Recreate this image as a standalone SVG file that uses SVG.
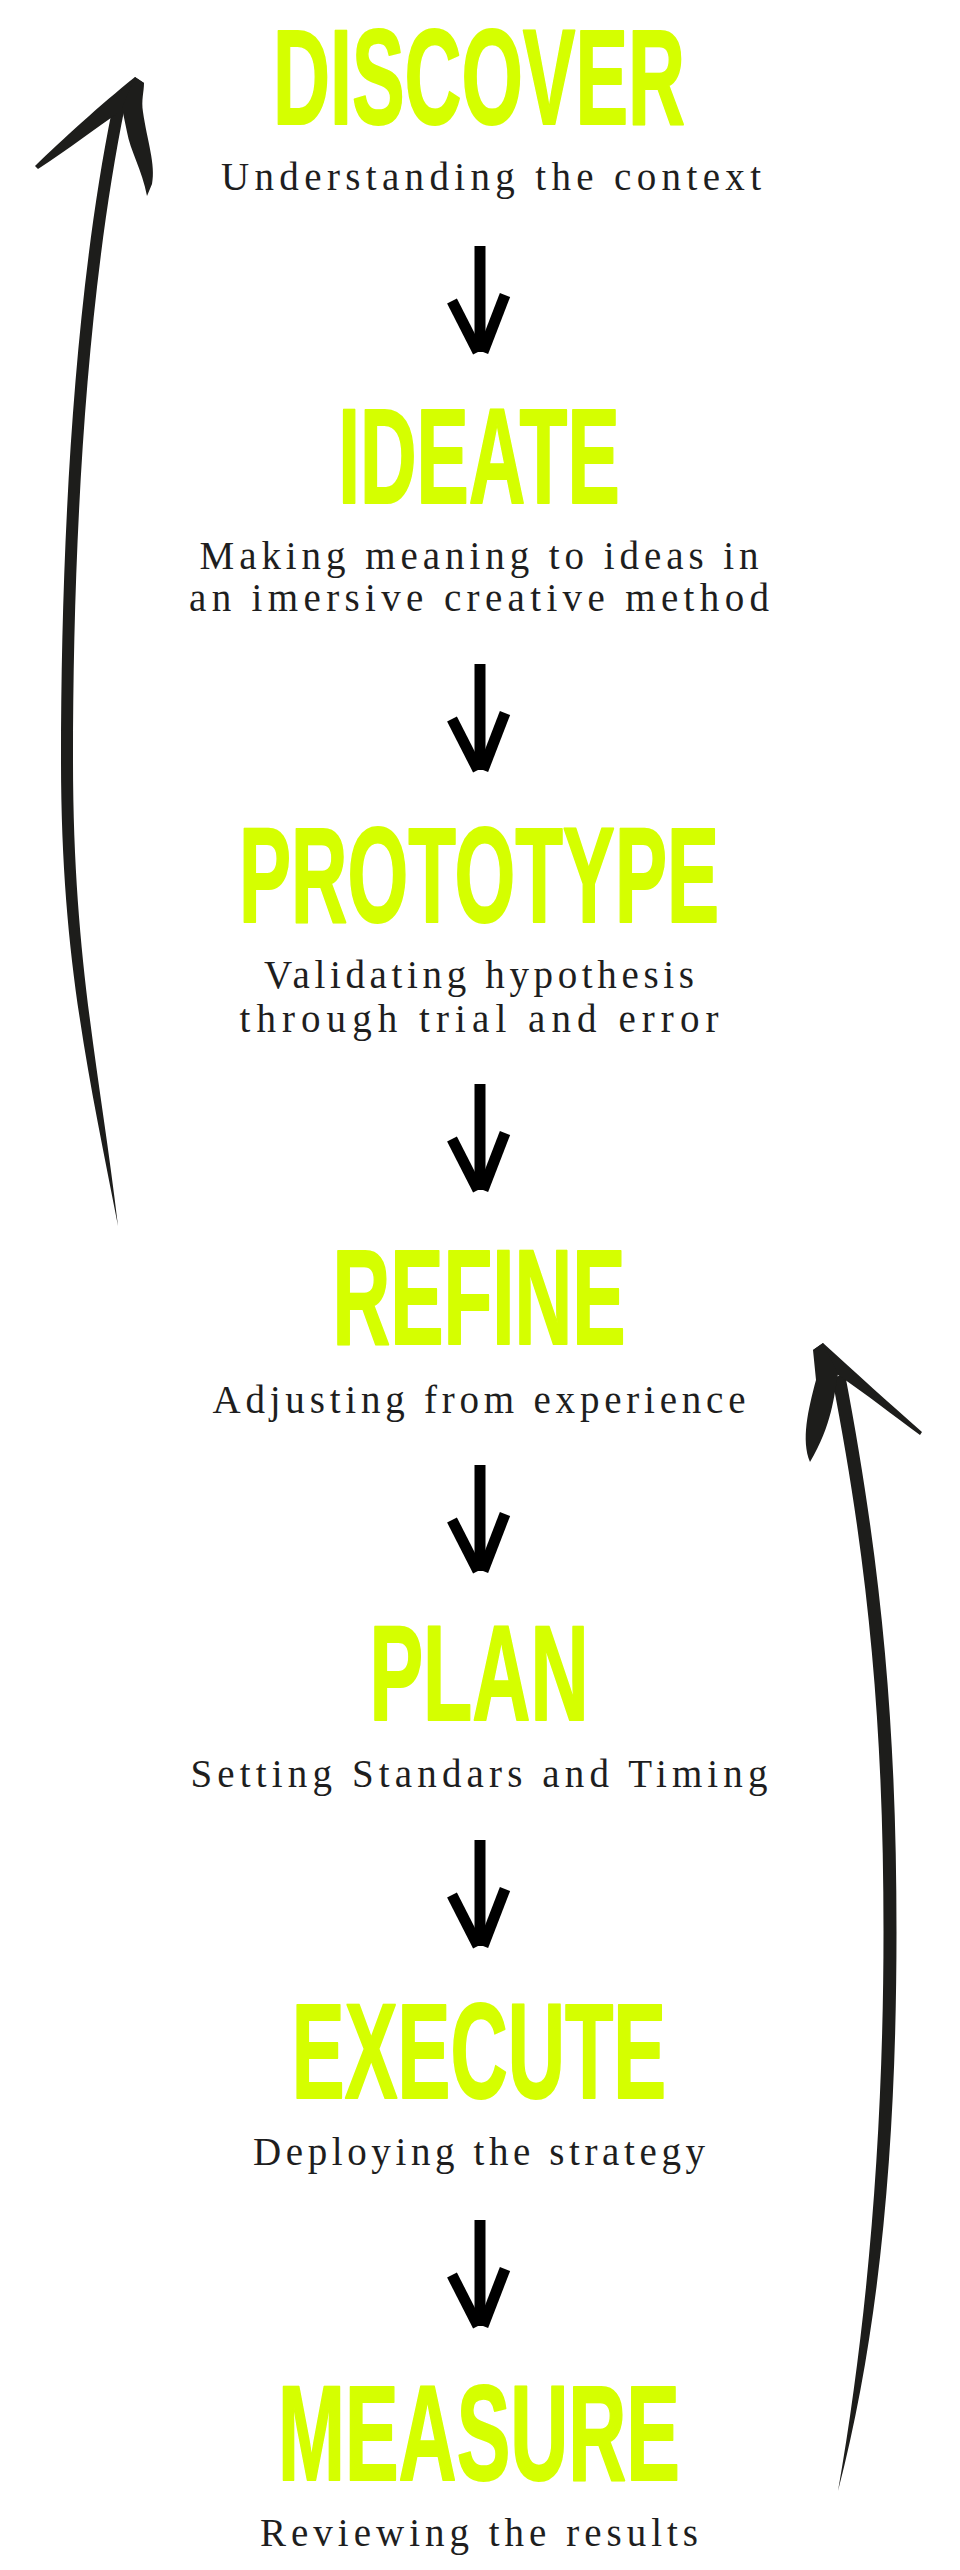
<svg xmlns="http://www.w3.org/2000/svg" xmlns:xlink="http://www.w3.org/1999/xlink" width="960" height="2570" viewBox="0 0 960 2570">
<style>
.title{font-family:"Liberation Sans","Arial",sans-serif;font-weight:700;font-size:136px;fill:#D5FF00;stroke:#D5FF00;stroke-width:2;stroke-linejoin:round;text-anchor:middle}
.sub{font-family:"Liberation Serif","Times New Roman",serif;font-size:39px;fill:#1e1e1e;text-anchor:middle}
.big{fill:#1d1d1b}
.small{stroke:#000;stroke-width:11;fill:none;stroke-linecap:butt}
</style>
<defs>
<g id="down">
<path class="small" d="M0,0 L0,106"/>
<path class="small" d="M-28,55 L-2,106"/>
<path class="small" d="M25,49 L3,106"/>
</g>
</defs>
<rect width="960" height="2570" fill="#ffffff"/>

<g id="node-discover">
<text class="title" transform="translate(479,124) scale(0.580,1)">DISCOVER</text>
<text class="sub" x="491" y="190" textLength="540" lengthAdjust="spacing">Understanding the context</text>
</g>
<g id="node-ideate">
<text class="title" transform="translate(479,503) scale(0.576,1)">IDEATE</text>
<text class="sub" x="479" y="569" textLength="559" lengthAdjust="spacing">Making meaning to ideas in</text>
<text class="sub" x="479" y="611" textLength="580" lengthAdjust="spacing">an imersive creative method</text>
</g>
<g id="node-prototype">
<text class="title" transform="translate(479,922) scale(0.574,1)">PROTOTYPE</text>
<text class="sub" x="479" y="988" textLength="430" lengthAdjust="spacing">Validating hypothesis</text>
<text class="sub" x="479" y="1032" textLength="479" lengthAdjust="spacing">through trial and error</text>
</g>
<g id="node-refine">
<text class="title" transform="translate(479,1344) scale(0.588,1)">REFINE</text>
<text class="sub" x="479" y="1413" textLength="533" lengthAdjust="spacing">Adjusting from experience</text>
</g>
<g id="node-plan">
<text class="title" transform="translate(479,1720) scale(0.592,1)">PLAN</text>
<text class="sub" x="479" y="1787" textLength="577" lengthAdjust="spacing">Setting Standars and Timing</text>
</g>
<g id="node-execute">
<text class="title" transform="translate(479,2098) scale(0.583,1)">EXECUTE</text>
<text class="sub" x="479" y="2165" textLength="452" lengthAdjust="spacing">Deploying the strategy</text>
</g>
<g id="node-measure">
<text class="title" transform="translate(479,2480) scale(0.591,1)">MEASURE</text>
<text class="sub" x="479" y="2546" textLength="438" lengthAdjust="spacing">Reviewing the results</text>
</g>

<g id="connectors">
<use xlink:href="#down" href="#down" x="480" y="246"/>
<use xlink:href="#down" href="#down" x="480" y="664"/>
<use xlink:href="#down" href="#down" x="480" y="1084"/>
<use xlink:href="#down" href="#down" x="480" y="1465"/>
<use xlink:href="#down" href="#down" x="480" y="1840"/>
<use xlink:href="#down" href="#down" x="480" y="2220"/>

<g id="loop-left">
<path class="big" d="M112,110 C72,308 61,560 61,760 C61,960 90,1080 118,1226 C100,1072 73,960 73,760 C73,560 84,308 125,106 Z"/>
<path class="big" d="M144,83 L135,77 C100,105 62,140 35,166 L38,169 C70,148 96,128 121,111 Z"/>
<path class="big" d="M135,77 L144,83 C144,92 141,100 143,112 C147,140 156,165 152,184 L147,196 C142,170 130,150 127,132 L122,108 Z"/>
</g>
<g id="loop-right">
<path class="big" d="M832,1378 C871,1578 883.5,1740 883.5,1932 C883.5,2130 868,2320 838,2491 C882,2322 896.5,2130 896.5,1932 C896.5,1740 884,1578 845,1374 Z"/>
<path class="big" d="M813,1350 L823,1343 C855,1372 890,1404 922,1432 L920,1435 C894,1416 866,1394 838,1375 Z"/>
<path class="big" d="M813,1350 L823,1343 L838,1374 C834,1396 832,1425 810,1462 C801,1440 808,1410 816,1380 Z"/>
</g>
</g>
</svg>
